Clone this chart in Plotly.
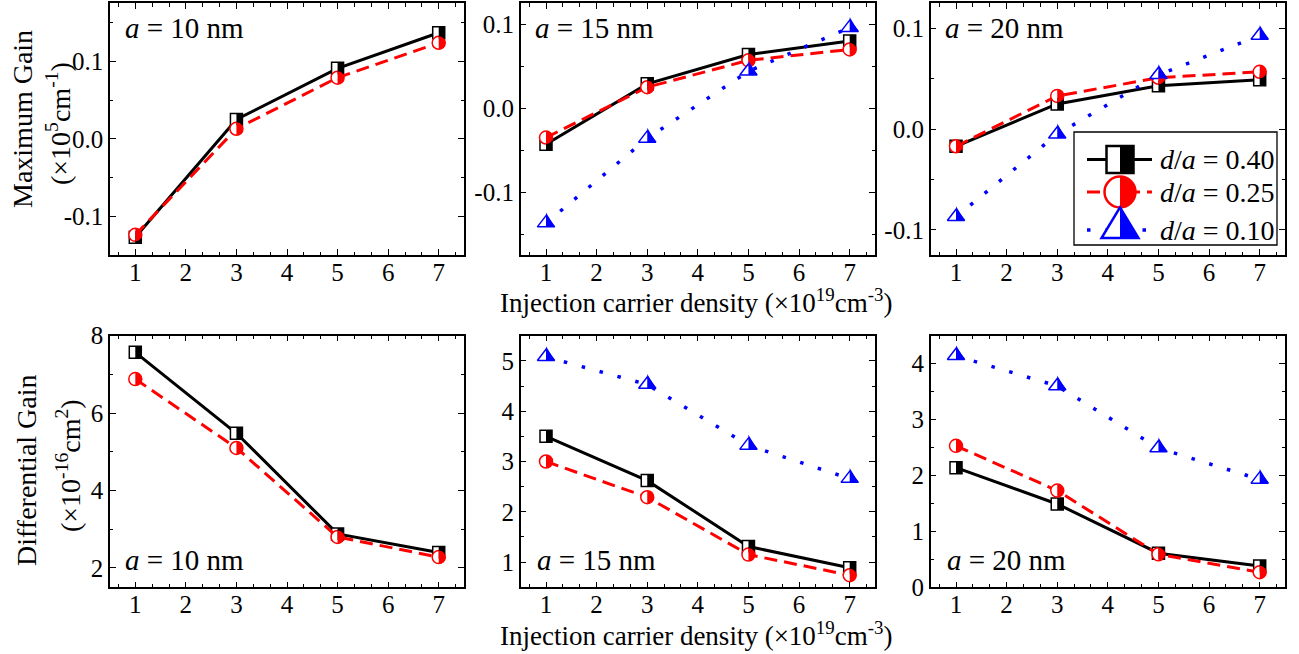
import math
import plotly.graph_objects as go

# ---------------- data ----------------
density = [1, 3, 5, 7]
series_names = ["d/a = 0.40", "d/a = 0.25", "d/a = 0.10"]

# Maximum gain (x10^5 cm^-1)
mg10_040 = [-0.127, 0.025, 0.091, 0.137]
mg10_025 = [-0.124, 0.013, 0.079, 0.124]
mg15_040 = [-0.043, 0.029, 0.064, 0.080]
mg15_025 = [-0.035, 0.025, 0.057, 0.070]
mg15_010 = [-0.137, -0.036, 0.044, 0.096]
mg20_040 = [-0.017, 0.025, 0.043, 0.049]
mg20_025 = [-0.017, 0.033, 0.051, 0.057]
mg20_010 = [-0.087, -0.005, 0.054, 0.093]

# Differential gain (x10^-16 cm^2)
dg10_040 = [7.57, 5.48, 2.88, 2.40]
dg10_025 = [6.88, 5.10, 2.80, 2.28]
dg15_040 = [3.50, 2.62, 1.31, 0.89]
dg15_025 = [3.00, 2.29, 1.15, 0.74]
dg15_010 = [5.08, 4.53, 3.32, 2.66]
dg20_040 = [2.14, 1.49, 0.61, 0.38]
dg20_025 = [2.53, 1.73, 0.59, 0.27]
dg20_010 = [4.14, 3.60, 2.49, 1.93]

panel_labels = ["<i>a</i> = 10 nm", "<i>a</i> = 15 nm", "<i>a</i> = 20 nm"]
x_title = "Injection carrier density (×10<sup>19</sup>cm<sup>-3</sup>)"
y_title_top = ["Maximum Gain", "(×10<sup>5</sup>cm<sup>-1</sup>)"]
y_title_bot = ["Differential Gain", "(×10<sup>-16</sup>cm<sup>2</sup>)"]

top_yticks = [-0.1, 0.0, 0.1]
top_yticktext = ["-0.1", "0.0", "0.1"]

# ---------------- styling ----------------
W, H = 1299, 654
FONT = "Liberation Serif"
COLORS = ["black", "red", "blue"]
SYMBOLS = ["square", "circle", "triangle-up"]
MSIZES = [12, 13, 15]
DASHES = ["solid", "13px,7px", "3.5px,15px"]
LWIDTH = [3, 3, 3.5]


def px(x):
    return x / W


def py(y):
    return 1 - y / H


col_dom = [[px(110), px(464)], [px(520.7), px(875)], [px(930.7), px(1285)]]
row_dom = [[py(255), py(3.3)], [py(587.3), py(335.7)]]

fig = go.Figure()
shapes = []
annotations = []


def half_path(kind, r):
    if kind == "square":
        return f"M0,{r} L{r},{r} L{r},{-r} L0,{-r} Z"
    if kind == "circle":
        c = 0.5523 * r
        return (f"M0,{r} C{c},{r} {r},{c} {r},0 C{r},{-c} {c},{-r} 0,{-r} Z")
    rt = r * 2 / math.sqrt(3)
    return f"M0,{r*math.sqrt(2)} L{rt},{-r/2} L0,{-r/2} Z"


def full_path(kind, r):
    if kind == "square":
        return f"M{-r},{r} L{r},{r} L{r},{-r} L{-r},{-r} Z"
    if kind == "circle":
        c = 0.5523 * r
        return (f"M0,{r} C{c},{r} {r},{c} {r},0 C{r},{-c} {c},{-r} 0,{-r} "
                f"C{-c},{-r} {-r},{-c} {-r},0 C{-r},{c} {-c},{r} 0,{r} Z")
    rt = r * 2 / math.sqrt(3)
    return f"M0,{r*math.sqrt(2)} L{rt},{-r/2} L{-rt},{-r/2} Z"


panels = [
    (1, 1, [mg10_040, mg10_025, None]),
    (1, 2, [mg15_040, mg15_025, mg15_010]),
    (1, 3, [mg20_040, mg20_025, mg20_010]),
    (2, 1, [dg10_040, dg10_025, None]),
    (2, 2, [dg15_040, dg15_025, dg15_010]),
    (2, 3, [dg20_040, dg20_025, dg20_010]),
]

yranges = {
    (1, 1): [-0.15, 0.175], (1, 2): [-0.175, 0.125], (1, 3): [-0.125, 0.125],
    (2, 1): [1.5, 8.0001], (2, 2): [0.5, 5.5], (2, 3): [-0.0001, 4.5],
}
ydticks = {(2, 1): (2, 1), (2, 2): (1, 0.5), (2, 3): (1, 0.5)}

for idx, (r, c, series) in enumerate(panels, start=1):
    xa = "x" if idx == 1 else f"x{idx}"
    ya = "y" if idx == 1 else f"y{idx}"
    for s, vals in enumerate(series):
        if vals is None:
            continue
        fig.add_trace(go.Scatter(
            x=density, y=vals, xaxis=xa, yaxis=ya, mode="lines+markers",
            name=series_names[s], showlegend=False,
            line=dict(color=COLORS[s], width=LWIDTH[s], dash=DASHES[s]),
            marker=dict(symbol=SYMBOLS[s], size=MSIZES[s], color="white",
                        line=dict(color=COLORS[s], width=1.5)),
            cliponaxis=False,
        ))
        for xv, yv in zip(density, vals):
            shapes.append(dict(
                type="path", xref=xa, yref=ya, xsizemode="pixel", ysizemode="pixel",
                xanchor=xv, yanchor=yv, path=half_path(SYMBOLS[s], MSIZES[s] / 2),
                fillcolor=COLORS[s], line=dict(width=0), layer="above",
            ))

    axis_common = dict(
        showline=True, linecolor="black", linewidth=1.5, mirror="allticks",
        ticks="inside", ticklen=6, tickwidth=1.3, tickcolor="black",
        showgrid=False, zeroline=False, automargin=False,
        tickfont=dict(family=FONT, size=25, color="black"),
    )
    xkey = "xaxis" if idx == 1 else f"xaxis{idx}"
    ykey = "yaxis" if idx == 1 else f"yaxis{idx}"
    xaxis = dict(axis_common, domain=col_dom[c - 1], anchor=ya, range=[0.5, 7.5],
                 tickmode="linear", tick0=1, dtick=1, ticklabelstandoff=-6,
                 minor=dict(ticks="inside", ticklen=3.5, tickwidth=1.2, tickcolor="black",
                            tick0=1, dtick=1 / 3, showgrid=False))
    yaxis = dict(axis_common, domain=row_dom[r - 1], anchor=xa, range=yranges[(r, c)])
    if r == 1:
        yaxis.update(tickmode="array", tickvals=top_yticks, ticktext=top_yticktext,
                     minor=dict(ticks="inside", ticklen=3.5, tickwidth=1.2, tickcolor="black",
                                tickmode="linear", tick0=0, dtick=0.05, showgrid=False))
    else:
        d, m = ydticks[(r, c)]
        yaxis.update(tickmode="linear", tick0=0, dtick=d,
                     minor=dict(ticks="inside", ticklen=3.5, tickwidth=1.2, tickcolor="black",
                                tick0=0, dtick=m, showgrid=False))
    fig.layout[xkey] = xaxis
    fig.layout[ykey] = yaxis

# panel labels
label_pos = {1: (123, 28), 2: (533, 28), 3: (943, 28), 4: (123, 560), 5: (535, 560), 6: (945, 560)}
for idx, (xp, yp) in label_pos.items():
    annotations.append(dict(
        text=panel_labels[(idx - 1) % 3], x=px(xp), y=py(yp), xref="paper", yref="paper",
        xanchor="left", yanchor="middle", showarrow=False,
        font=dict(family=FONT, size=29, color="black"),
    ))

# x titles
for yp in (301, 634):
    annotations.append(dict(
        text=x_title, x=px(697), y=py(yp), xref="paper", yref="paper",
        xanchor="center", yanchor="middle", showarrow=False,
        font=dict(family=FONT, size=27, color="black"),
    ))

# y titles
ytitle_specs = [
    (y_title_top[0], 22, 119), (y_title_top[1], 58, 124),
    (y_title_bot[0], 27, 470), (y_title_bot[1], 68, 466),
]
for txt, xp, yp in ytitle_specs:
    annotations.append(dict(
        text=txt, x=px(xp), y=py(yp), xref="paper", yref="paper",
        xanchor="center", yanchor="middle", showarrow=False, textangle=-90,
        font=dict(family=FONT, size=28, color="black"),
    ))

# custom legend
shapes.append(dict(type="rect", xref="paper", yref="paper",
                   x0=px(1074), x1=px(1277), y0=py(245), y1=py(132),
                   line=dict(color="black", width=1.3), fillcolor="white", layer="above"))
leg_rows = [159.5, 192, 230]
leg_sizes = [27, 31, 32]
for s in range(3):
    yc = py(leg_rows[s])
    shapes.append(dict(type="line", xref="paper", yref="paper",
                       x0=px(1087), x1=px(1152), y0=yc, y1=yc,
                       line=dict(color=COLORS[s], width=LWIDTH[s], dash=DASHES[s]),
                       layer="above"))
    rr = leg_sizes[s] / 2
    shapes.append(dict(type="path", xref="paper", yref="paper", xsizemode="pixel",
                       ysizemode="pixel", xanchor=px(1120), yanchor=yc,
                       path=full_path(SYMBOLS[s], rr), fillcolor="white",
                       line=dict(color=COLORS[s], width=2.5), layer="above"))
    shapes.append(dict(type="path", xref="paper", yref="paper", xsizemode="pixel",
                       ysizemode="pixel", xanchor=px(1120), yanchor=yc,
                       path=half_path(SYMBOLS[s], rr), fillcolor=COLORS[s],
                       line=dict(width=0), layer="above"))
    annotations.append(dict(
        text="<i>d</i>/<i>a</i> = " + series_names[s].split("= ")[1],
        x=px(1158), y=yc, xref="paper", yref="paper",
        xanchor="left", yanchor="middle", showarrow=False,
        font=dict(family=FONT, size=28, color="black"),
    ))

fig.update_layout(
    template="none",
    width=W, height=H, autosize=False, margin=dict(l=0, r=0, t=0, b=0, pad=0),
    paper_bgcolor="white", plot_bgcolor="white",
    shapes=shapes, annotations=annotations, showlegend=False,
    font=dict(family=FONT, color="black"),
)

fig.write_html(
    "out.html", include_plotlyjs=True,
    config={"displayModeBar": False, "responsive": False},
    post_script=("document.documentElement.style.margin='0';"
                 "document.documentElement.style.padding='0';"
                 "document.body.style.margin='0';document.body.style.padding='0';"
                 "document.documentElement.style.overflow='hidden';"
                 "document.body.style.overflow='hidden';"),
)
